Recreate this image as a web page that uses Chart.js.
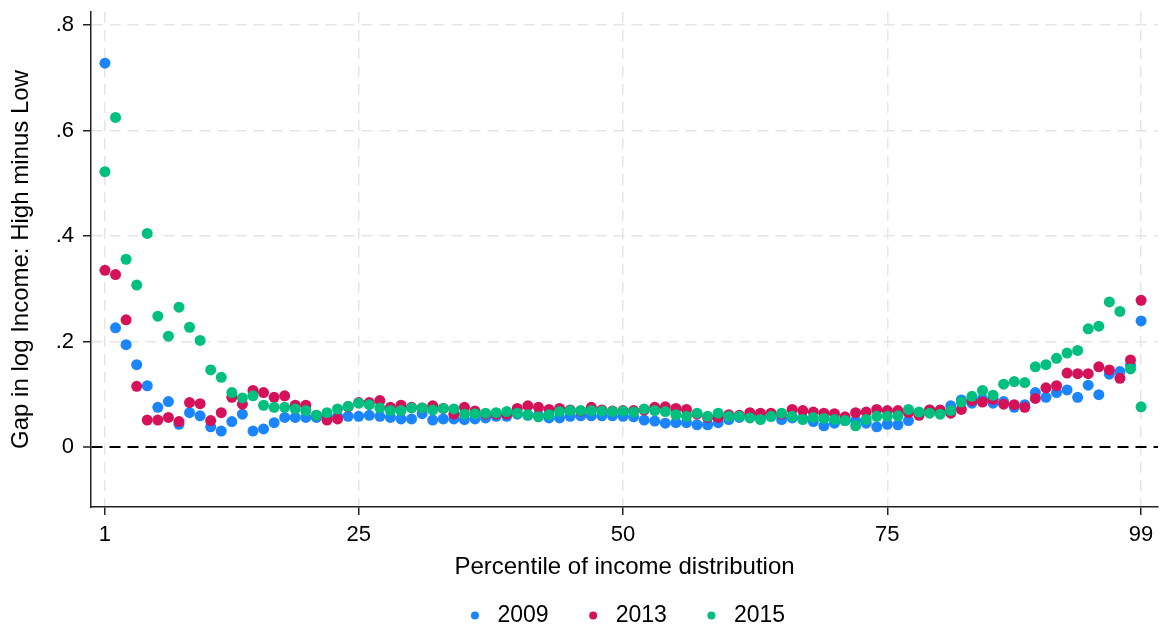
<!DOCTYPE html>
<html>
<head>
<meta charset="utf-8">
<script src="https://cdn.jsdelivr.net/npm/chart.js@4.4.1/dist/chart.umd.min.js"></script>
<style>
  html, body { margin: 0; padding: 0; background: #fff; }
</style>
</head>
<body>
<canvas id="gapChart" width="1164" height="633"></canvas>
<script>
// percentiles of the income distribution
const pct = [1,2,3,4,5,6,7,8,9,10,11,12,13,14,15,16,17,18,19,20,
  21,22,23,24,25,26,27,28,29,30,31,32,33,34,35,36,37,38,39,40,
  41,42,43,44,45,46,47,48,49,50,51,52,53,54,55,56,57,58,59,60,
  61,62,63,64,65,66,67,68,69,70,71,72,73,74,75,76,77,78,79,80,
  81,82,83,84,85,86,87,88,89,90,91,92,93,94,95,96,97,98,99];

// gap in log income (high minus low)
const gap2009 = [0.728,0.226,0.194,0.156,0.116,0.075,0.086,0.043,0.065,0.059,
  0.038,0.030,0.048,0.062,0.030,0.034,0.046,0.056,0.056,0.056,
  0.056,0.058,0.058,0.058,0.058,0.060,0.058,0.056,0.053,0.053,
  0.063,0.051,0.053,0.053,0.052,0.053,0.055,0.058,0.058,0.062,
  0.060,0.060,0.055,0.055,0.058,0.059,0.059,0.059,0.059,0.058,
  0.057,0.051,0.049,0.045,0.046,0.046,0.042,0.042,0.046,0.052,
  0.056,0.058,0.056,0.058,0.052,0.055,0.054,0.048,0.040,0.045,
  0.050,0.050,0.045,0.038,0.043,0.042,0.050,0.064,0.070,0.066,
  0.078,0.089,0.083,0.091,0.083,0.086,0.075,0.080,0.103,0.094,
  0.103,0.108,0.094,0.117,0.099,0.138,0.143,0.155,0.239];

const gap2013 = [0.335,0.327,0.241,0.115,0.051,0.051,0.056,0.048,0.084,0.082,
  0.050,0.065,0.094,0.081,0.107,0.103,0.094,0.097,0.079,0.079,
  0.060,0.051,0.053,0.076,0.084,0.084,0.088,0.075,0.079,0.075,
  0.074,0.078,0.073,0.062,0.075,0.068,0.062,0.062,0.062,0.073,
  0.078,0.075,0.071,0.073,0.070,0.068,0.075,0.070,0.068,0.069,
  0.069,0.070,0.075,0.076,0.073,0.071,0.062,0.056,0.056,0.061,
  0.060,0.065,0.064,0.064,0.062,0.071,0.069,0.066,0.064,0.063,
  0.057,0.065,0.066,0.071,0.069,0.069,0.065,0.060,0.070,0.070,
  0.064,0.071,0.088,0.085,0.090,0.081,0.080,0.075,0.092,0.112,
  0.116,0.140,0.139,0.139,0.152,0.146,0.130,0.165,0.278];

const gap2015 = [0.522,0.625,0.356,0.307,0.405,0.248,0.210,0.265,0.227,0.202,
  0.146,0.132,0.103,0.093,0.097,0.079,0.075,0.075,0.072,0.069,
  0.060,0.065,0.072,0.077,0.083,0.080,0.074,0.069,0.069,0.074,
  0.074,0.070,0.073,0.072,0.062,0.063,0.064,0.065,0.067,0.064,
  0.061,0.057,0.061,0.067,0.069,0.069,0.069,0.068,0.067,0.068,
  0.066,0.072,0.069,0.067,0.061,0.058,0.064,0.058,0.064,0.058,
  0.058,0.055,0.052,0.058,0.064,0.058,0.052,0.056,0.054,0.052,
  0.050,0.040,0.052,0.058,0.058,0.059,0.071,0.066,0.064,0.062,
  0.069,0.085,0.096,0.107,0.098,0.119,0.124,0.122,0.152,0.156,
  0.168,0.178,0.183,0.224,0.229,0.275,0.257,0.148,0.076];

const seriesNames = ["2009", "2013", "2015"];
const xTicks = [1, 25, 50, 75, 99];
const yTicks = [0, 0.2, 0.4, 0.6, 0.8];
const yTickLabels = ["0", ".2", ".4", ".6", ".8"];

const FONT = "'Liberation Sans', Arial, sans-serif";

function dots(name, values, color, order) {
  return {
    label: name,
    data: values,
    backgroundColor: color,
    borderWidth: 0,
    pointRadius: 5.5,
    pointHoverRadius: 5.5,
    showLine: false,
    order: order,
  };
}

const ctx = document.getElementById("gapChart").getContext("2d");
new Chart(ctx, {
  type: "line",
  data: {
    labels: pct,
    datasets: [
      dots(seriesNames[0], gap2009, "#1a85ff", 2),
      dots(seriesNames[1], gap2013, "#d41159", 1),
      dots(seriesNames[2], gap2015, "#00bf7f", 0),
    ],
  },
  options: {
    responsive: false,
    animation: false,
    layout: { padding: { top: 12, right: 6, left: 0, bottom: 0 } },
    scales: {
      x: {
        type: "linear",
        min: -0.32,
        max: 100.6,
        afterBuildTicks: (axis) => { axis.ticks = xTicks.map((v) => ({ value: v })); },
        afterFit: (s) => { s.height = 89; },
        ticks: {
          color: "#000",
          font: { family: FONT, size: 22 },
          padding: 7,
          maxRotation: 0,
          callback: (v) => String(v),
        },
        grid: { color: "#e6e6e6", lineWidth: 1.5, tickLength: 8, tickColor: "#222", tickWidth: 1.5 },
        border: { display: true, color: "#222", width: 1.5, dash: [11, 7] },
        title: {
          display: true,
          text: "Percentile of income distribution",
          color: "#000",
          font: { family: FONT, size: 24 },
          padding: { top: 0, bottom: 14 },
        },
      },
      y: {
        min: -0.114,
        max: 0.825,
        afterBuildTicks: (axis) => { axis.ticks = yTicks.map((v) => ({ value: v })); },
        afterFit: (s) => {
          s.width = 91;
          // top label sits below the axis end, so no extra room is needed
          s.paddingTop = 0;
          s.paddingBottom = 0;
        },
        ticks: {
          color: "#000",
          font: { family: FONT, size: 22 },
          padding: 9,
          callback: (v) => yTickLabels[yTicks.indexOf(v)],
        },
        grid: {
          color: (c) => (c.tick && c.tick.value === 0 ? "#000" : "#e6e6e6"),
          lineWidth: (c) => (c.tick && c.tick.value === 0 ? 2 : 1.5),
          tickLength: 8,
          tickColor: "#222",
          tickWidth: 1.5,
        },
        border: { display: true, color: "#222", width: 1.5, dash: [11, 7] },
        title: {
          display: true,
          text: "Gap in log Income: High minus Low",
          color: "#000",
          font: { family: FONT, size: 24 },
          padding: { top: 7, bottom: 0 },
        },
      },
    },
    plugins: {
      tooltip: { enabled: false },
      legend: {
        position: "bottom",
        fullSize: false,
        maxHeight: 37,
        labels: {
          usePointStyle: true,
          pointStyle: "circle",
          boxWidth: 22,
          boxHeight: 5.66,
          padding: 8,
          color: "#000",
          font: { family: FONT, size: 23 },
          // extra room after the first two entries, like the original key
          generateLabels: (chart) => {
            const items = Chart.defaults.plugins.legend.labels.generateLabels(chart);
            items.sort((a, b) => a.datasetIndex - b.datasetIndex);
            items.forEach((it, i) => {
              it.lineWidth = 0;
              if (i < items.length - 1) it.text = it.text + "    ";
            });
            return items;
          },
        },
      },
    },
  },
});
</script>
</body>
</html>
